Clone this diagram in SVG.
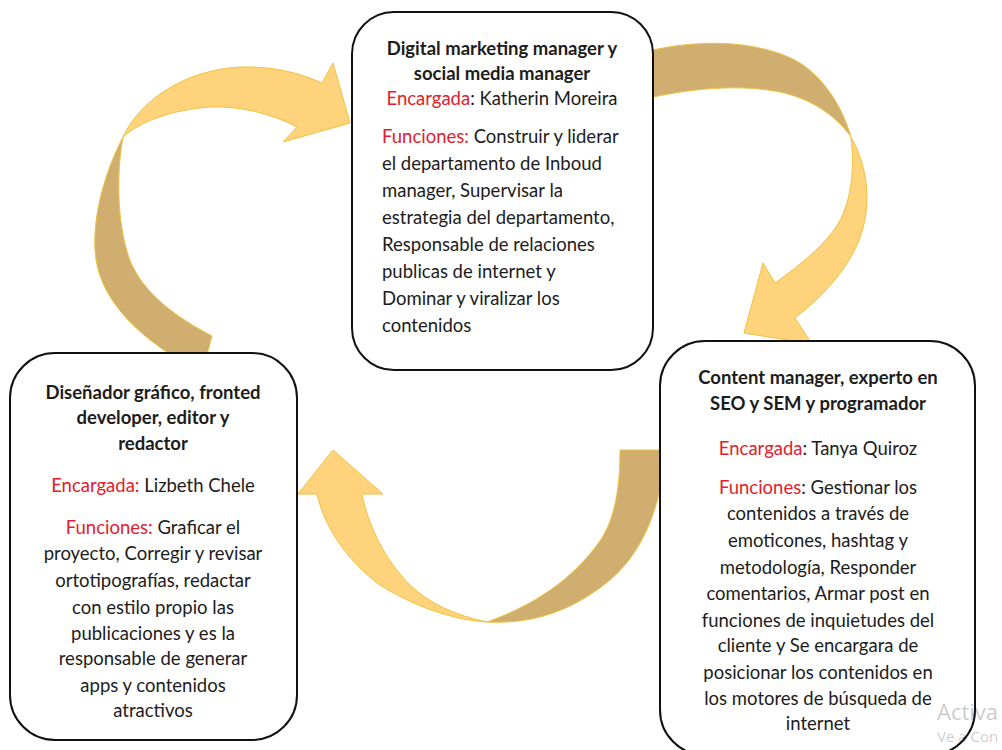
<svg xmlns="http://www.w3.org/2000/svg" width="1002" height="750" viewBox="0 0 1002 750">
<style>
.box{fill:#fff;stroke:#111;stroke-width:2}
.t{font-family:Lato,"Open Sans","Liberation Sans",sans-serif;font-size:18.5px;fill:#1c1c1c}
.b{font-weight:bold}
.c{text-anchor:middle}
.r{fill:#e3202b}
.lt{fill:#ffd37b;stroke:#f0c23e;stroke-width:1}
.dk{fill:#cfae6f;stroke:#f0c23e;stroke-width:1}
.wm{font-family:"Open Sans","Liberation Sans",sans-serif;fill:#000;fill-opacity:0.22}
</style>
<rect width="1002" height="750" fill="#fff"/>
<g id="connectors">
  <!-- arrow top-left: from left box to top box -->
  <path class="dk" d="M123,137 C106,170 93,212 95,250 C97,292 128,328 176,358 L206,358 L212,336 C178,318 146,296 131,263 C117,228 116,175 123,137 Z"/>
  <path class="lt" d="M123,137 C140,100 185,70 240,67 C270,66 298,72 322,83 L333,63 L350,123 L283,142 L297,127 C270,113 240,106 210,107 C170,110 140,122 123,137 Z"/>
  <!-- arrow top-right: from top box to right box -->
  <path class="dk" d="M640,53 C690,40 750,38 795,60 C822,75 842,105 851,137 C834,113 808,98 780,92 C740,84 690,88 640,100 Z"/>
  <path class="lt" d="M851,137 C870,170 872,212 857,245 C843,276 818,300 795,318 L812,344 L744,333 L763,263 L775,283 C803,263 832,240 843,214 C853,190 854,163 851,137 Z"/>
  <!-- arrow bottom: from right box to left box -->
  <path class="dk" d="M665,450 L620,450 C620,480 617,520 597,545 C578,570 548,600 487,622 C540,625 580,605 610,580 C640,555 662,510 665,450 Z"/>
  <path class="lt" d="M487,622 C450,620 410,604 380,585 C350,563 325,530 317,494 L298,494 L333,450 L383,494 L362,494 C368,525 385,560 410,585 C430,604 455,615 487,622 Z"/>
</g>
<g id="node-digital-marketing">
  <rect class="box" x="352" y="12" width="301" height="358" rx="42"/>
  <text class="t b c" x="502" y="54.5">Digital marketing manager y</text>
  <text class="t b c" x="502" y="79.5">social media manager</text>
  <text class="t c" x="502" y="104.5"><tspan class="r">Encargada</tspan>: Katherin Moreira</text>
  <text class="t" x="382" y="142.5"><tspan class="r">Funciones:</tspan> Construir y liderar</text>
  <text class="t" x="382" y="169.5">el departamento de Inboud</text>
  <text class="t" x="382" y="196.5">manager, Supervisar la</text>
  <text class="t" x="382" y="223.5">estrategia del departamento,</text>
  <text class="t" x="382" y="250.5">Responsable de relaciones</text>
  <text class="t" x="382" y="277.5">publicas de internet y</text>
  <text class="t" x="382" y="304.5">Dominar y viralizar los</text>
  <text class="t" x="382" y="331.5">contenidos</text>
</g>
<g id="node-disenador">
  <rect class="box" x="10" y="353" width="287" height="387" rx="45"/>
  <text class="t b c" x="153" y="398.5">Diseñador gráfico, fronted</text>
  <text class="t b c" x="153" y="423.5">developer, editor y</text>
  <text class="t b c" x="153" y="449.5">redactor</text>
  <text class="t c" x="153" y="491.5"><tspan class="r">Encargada:</tspan> Lizbeth Chele</text>
  <text class="t c" x="153" y="533.5"><tspan class="r">Funciones:</tspan> Graficar el</text>
  <text class="t c" x="153" y="559.5">proyecto, Corregir y revisar</text>
  <text class="t c" x="153" y="586.5">ortotipografías, redactar</text>
  <text class="t c" x="153" y="613.5">con estilo propio las</text>
  <text class="t c" x="153" y="639.5">publicaciones y es la</text>
  <text class="t c" x="153" y="664.5">responsable de generar</text>
  <text class="t c" x="153" y="691.5">apps y contenidos</text>
  <text class="t c" x="153" y="716.5">atractivos</text>
</g>
<g id="node-content-manager">
  <rect class="box" x="660" y="341" width="315" height="414" rx="45"/>
  <text class="t b c" x="818" y="383.5">Content manager, experto en</text>
  <text class="t b c" x="818" y="409.5">SEO y SEM y programador</text>
  <text class="t c" x="818" y="454.5"><tspan class="r">Encargada</tspan>: Tanya Quiroz</text>
  <text class="t c" x="818" y="493.5"><tspan class="r">Funciones</tspan>: Gestionar los</text>
  <text class="t c" x="818" y="519.5">contenidos a través de</text>
  <text class="t c" x="818" y="546.5">emoticones, hashtag y</text>
  <text class="t c" x="818" y="573.5">metodología, Responder</text>
  <text class="t c" x="818" y="599.5">comentarios, Armar post en</text>
  <text class="t c" x="818" y="626.5">funciones de inquietudes del</text>
  <text class="t c" x="818" y="651.5">cliente y Se encargara de</text>
  <text class="t c" x="818" y="678.5">posicionar los contenidos en</text>
  <text class="t c" x="818" y="704.5">los motores de búsqueda de</text>
  <text class="t c" x="818" y="729.5">internet</text>
</g>
<g id="watermark">
  <text class="wm" x="937" y="720" font-size="22">Activa</text>
  <text class="wm" x="937" y="742" font-size="15">Ve a Con</text>
</g>
</svg>
